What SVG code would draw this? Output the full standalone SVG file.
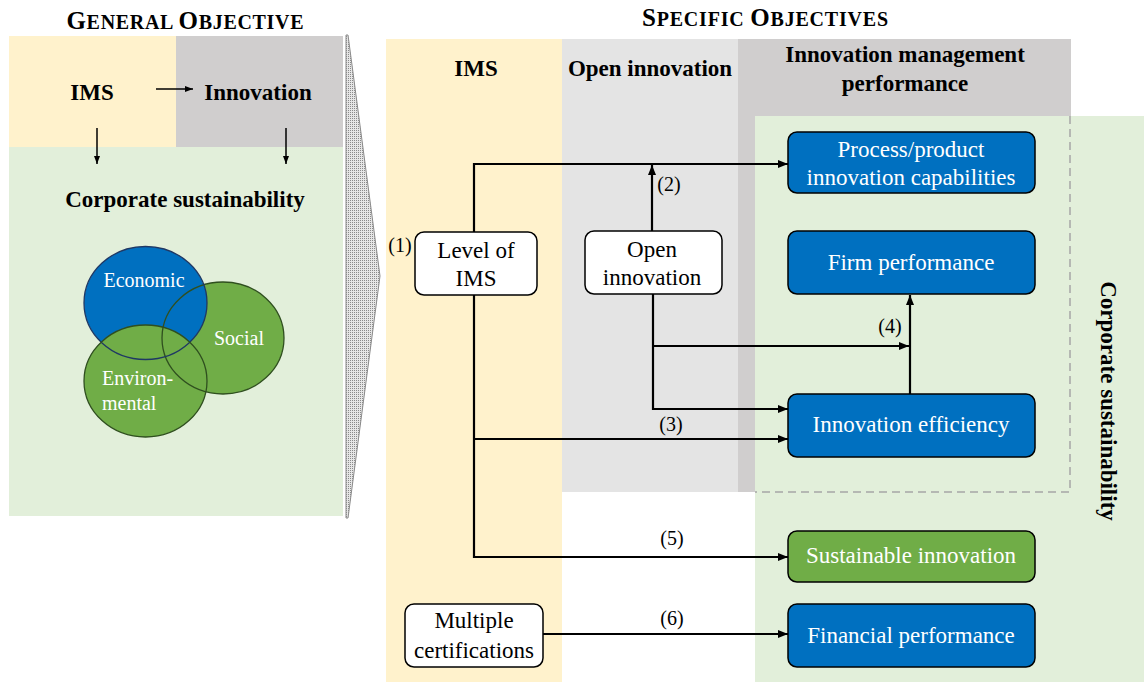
<svg xmlns="http://www.w3.org/2000/svg" width="1144" height="682" viewBox="0 0 1144 682">
<style>
.h{font-weight:bold;font-size:23px;text-anchor:middle}
.t{font-size:23px;text-anchor:middle}
.w{fill:#fff}
.lbl{font-size:20px;text-anchor:middle}
.ttl{font-weight:bold;text-anchor:middle}
.node{fill:#fff;stroke:#000;stroke-width:1.5}
.blue{fill:#0070C0;stroke:#000;stroke-width:1.5}
.grn{fill:#70AD47;stroke:#000;stroke-width:1.5}
.conn{fill:none;stroke:#000;stroke-width:2.2}
.circ{font-size:20px;fill:#fff}
</style>
<defs>
<marker id="ah" markerUnits="userSpaceOnUse" markerWidth="10" markerHeight="8" refX="10" refY="4" orient="auto">
<path d="M0,0 L10,4 L0,8 Z" fill="#000"/>
</marker>
<marker id="ahs" markerUnits="userSpaceOnUse" markerWidth="8" markerHeight="6" refX="8" refY="3" orient="auto">
<path d="M0,0 L8,3 L0,6 Z" fill="#000"/>
</marker>
<pattern id="dots" width="2" height="2" patternUnits="userSpaceOnUse">
<rect width="2" height="2" fill="#e6e6e6"/>
<rect width="1" height="1" fill="#8a8a8a"/>
</pattern>
</defs>

<g id="general-objective">
<text font-family="'Liberation Serif', serif" class="ttl" x="185" y="29" textLength="237"><tspan font-size="25">G</tspan><tspan font-size="20">ENERAL </tspan><tspan font-size="25">O</tspan><tspan font-size="20">BJECTIVE</tspan></text>
<rect x="9" y="36" width="167" height="111" fill="#FFF2CC"/>
<rect x="176" y="36" width="167" height="111" fill="#D0CECE"/>
<rect x="9" y="147" width="334" height="369" fill="#E2EFDA"/>
<text font-family="'Liberation Serif', serif" class="h" x="92" y="100">IMS</text>
<text font-family="'Liberation Serif', serif" class="h" x="258" y="100">Innovation</text>
<text font-family="'Liberation Serif', serif" class="h" x="185" y="207">Corporate sustainability</text>
<g id="venn">
<ellipse cx="223" cy="338" rx="61" ry="56" fill="#70AD47"/>
<ellipse cx="145.5" cy="303" rx="61.5" ry="56.5" fill="#0070C0"/>
<ellipse cx="145.5" cy="381" rx="61.5" ry="56" fill="#70AD47"/>
<ellipse cx="223" cy="338" rx="61" ry="56" fill="none" stroke="#2F4F1F" stroke-width="1.3"/>
<ellipse cx="145.5" cy="303" rx="61.5" ry="56.5" fill="none" stroke="#1F3864" stroke-width="1.3"/>
<ellipse cx="145.5" cy="381" rx="61.5" ry="56" fill="none" stroke="#2F4F1F" stroke-width="1.3"/>
<text font-family="'Liberation Serif', serif" class="circ" x="144" y="287" text-anchor="middle">Economic</text>
<text font-family="'Liberation Serif', serif" class="circ" x="239" y="345" text-anchor="middle">Social</text>
<text font-family="'Liberation Serif', serif" class="circ" x="102" y="385">Environ-</text>
<text font-family="'Liberation Serif', serif" class="circ" x="102" y="410">mental</text>
</g>
</g>

<g id="funnel">
<polygon points="346,35 348,35 380,276 348,518 346,518" fill="url(#dots)" stroke="#8a8a8a" stroke-width="1"/>
</g>

<g id="specific-objectives">
<text font-family="'Liberation Serif', serif" class="ttl" x="765" y="26" textLength="246"><tspan font-size="25">S</tspan><tspan font-size="20">PECIFIC </tspan><tspan font-size="25">O</tspan><tspan font-size="20">BJECTIVES</tspan></text>
<rect x="386" y="39" width="176" height="643" fill="#FFF2CC"/>
<rect x="562" y="39" width="176" height="453" fill="#E4E4E4"/>
<rect x="738" y="39" width="333" height="77" fill="#D0CECE"/>
<rect x="738" y="116" width="17" height="376" fill="#D0CECE"/>
<rect x="755" y="116" width="389" height="566" fill="#E2EFDA"/>
<path d="M1070,116 V492 H755" fill="none" stroke="#a6a6a6" stroke-width="1.5" stroke-dasharray="8,5"/>
<text font-family="'Liberation Serif', serif" class="h" x="476" y="76">IMS</text>
<text font-family="'Liberation Serif', serif" class="h" x="650" y="76">Open innovation</text>
<text font-family="'Liberation Serif', serif" class="h" x="905" y="62">Innovation management</text>
<text font-family="'Liberation Serif', serif" class="h" x="905" y="91">performance</text>
<text font-family="'Liberation Serif', serif" class="h" transform="translate(1101,401) rotate(90)" x="0" y="0">Corporate sustainability</text>
</g>

<g id="connectors">
<line x1="156" y1="89" x2="193" y2="89" stroke="#000" stroke-width="1.5" marker-end="url(#ahs)"/>
<line x1="97" y1="128" x2="97" y2="164" stroke="#000" stroke-width="1.5" marker-end="url(#ahs)"/>
<line x1="286" y1="128" x2="286" y2="164" stroke="#000" stroke-width="1.5" marker-end="url(#ahs)"/>
<path class="conn" d="M474,232 V164 H788" marker-end="url(#ah)"/>
<path class="conn" d="M652,231 V165" marker-end="url(#ah)"/>
<path class="conn" d="M474,295 V557 H788" marker-end="url(#ah)"/>
<path class="conn" d="M474,439 H788" marker-end="url(#ah)"/>
<path class="conn" d="M653,294 V409 H788" marker-end="url(#ah)"/>
<path class="conn" d="M653,346 H909" marker-end="url(#ah)"/>
<path class="conn" d="M910,394 V295" marker-end="url(#ah)"/>
<path class="conn" d="M543,634 H788" marker-end="url(#ah)"/>
<text font-family="'Liberation Serif', serif" class="lbl" x="400" y="252">(1)</text>
<text font-family="'Liberation Serif', serif" class="lbl" x="669" y="191">(2)</text>
<text font-family="'Liberation Serif', serif" class="lbl" x="671" y="431">(3)</text>
<text font-family="'Liberation Serif', serif" class="lbl" x="890" y="333">(4)</text>
<text font-family="'Liberation Serif', serif" class="lbl" x="672" y="545">(5)</text>
<text font-family="'Liberation Serif', serif" class="lbl" x="672" y="625">(6)</text>
</g>

<g id="node-level-ims">
<rect class="node" x="415" y="232" width="122" height="63" rx="9"/>
<text font-family="'Liberation Serif', serif" class="t" x="476" y="258">Level of</text>
<text font-family="'Liberation Serif', serif" class="t" x="476" y="286">IMS</text>
</g>
<g id="node-open-innovation">
<rect class="node" x="585" y="231" width="137" height="63" rx="9"/>
<text font-family="'Liberation Serif', serif" class="t" x="652" y="257">Open</text>
<text font-family="'Liberation Serif', serif" class="t" x="652" y="285">innovation</text>
</g>
<g id="node-multiple-certifications">
<rect class="node" x="405" y="604" width="138" height="63" rx="9"/>
<text font-family="'Liberation Serif', serif" class="t" x="474" y="628">Multiple</text>
<text font-family="'Liberation Serif', serif" class="t" x="474" y="658">certifications</text>
</g>
<g id="node-process-product">
<rect class="blue" x="788" y="132" width="247" height="61" rx="9"/>
<text font-family="'Liberation Serif', serif" class="t w" x="911" y="157">Process/product</text>
<text font-family="'Liberation Serif', serif" class="t w" x="911" y="185">innovation capabilities</text>
</g>
<g id="node-firm-performance">
<rect class="blue" x="788" y="231" width="247" height="63" rx="9"/>
<text font-family="'Liberation Serif', serif" class="t w" x="911" y="270">Firm performance</text>
</g>
<g id="node-innovation-efficiency">
<rect class="blue" x="788" y="394" width="247" height="63" rx="9"/>
<text font-family="'Liberation Serif', serif" class="t w" x="911" y="432">Innovation efficiency</text>
</g>
<g id="node-sustainable-innovation">
<rect class="grn" x="788" y="531" width="247" height="51" rx="9"/>
<text font-family="'Liberation Serif', serif" class="t w" x="911" y="563">Sustainable innovation</text>
</g>
<g id="node-financial-performance">
<rect class="blue" x="788" y="604" width="247" height="63" rx="9"/>
<text font-family="'Liberation Serif', serif" class="t w" x="911" y="643">Financial performance</text>
</g>
</svg>
